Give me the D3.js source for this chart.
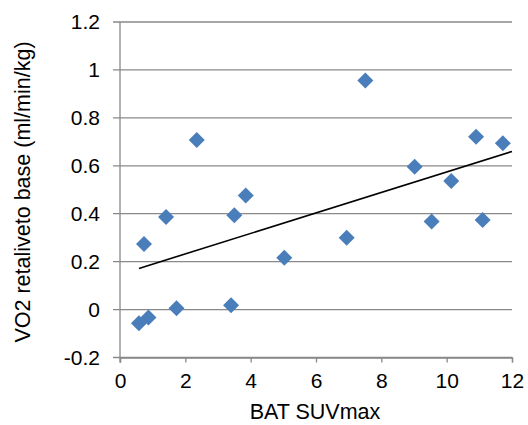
<!DOCTYPE html>
<html>
<head>
<meta charset="utf-8">
<script src="https://cdn.jsdelivr.net/npm/d3@7"></script>
<style>
  body { margin: 0; background: #fff; }
  text { font-family: "Liberation Sans", Arial, sans-serif; fill: #000; }
</style>
</head>
<body>
<svg id="chart" width="528" height="425"></svg>
<script>
// BAT SUVmax vs VO2
const suvMax = [0.58, 0.87, 0.735, 1.41, 1.73, 2.35, 3.40, 3.50, 3.85, 5.03,
  6.94, 7.51, 9.02, 9.54, 10.14, 10.90, 11.10, 11.72]
const vo2 = [-0.057, -0.033, 0.274, 0.386, 0.006, 0.708, 0.018, 0.394, 0.476, 0.216,
  0.300, 0.956, 0.596, 0.367, 0.537, 0.721, 0.374, 0.694]
const xTicks = [0, 2, 4, 6, 8, 10, 12]
const yTicks = [-0.2, 0, 0.2, 0.4, 0.6, 0.8, 1, 1.2]

window.addEventListener('load', () => {
  const svg = d3.select('#chart'),
    left = 120, right = 512, top = 22, bottom = 357.5,
    x = d3.scaleLinear().domain([0, 12]).range([left, right]),
    y = d3.scaleLinear().domain([-0.2, 1.2]).range([bottom, top]),
    grey = '#898989'

  const points = suvMax.map((d, i) => ({ x: d, y: vo2[i] }))

  // gridlines + y ticks
  svg.append('g')
    .selectAll('line')
    .data(yTicks)
    .enter()
    .append('line')
    .attr('x1', left - 7)
    .attr('x2', right)
    .attr('y1', (d) => y(d))
    .attr('y2', (d) => y(d))
    .attr('stroke', grey)
    .attr('stroke-width', 1.3)

  svg.append('g')
    .selectAll('text')
    .data(yTicks)
    .enter()
    .append('text')
    .attr('x', 100)
    .attr('y', (d) => y(d))
    .attr('dy', '0.35em')
    .attr('text-anchor', 'end')
    .style('font-size', '21px')
    .text((d) => String(d))

  // x axis
  const xAxis = d3.axisBottom(x).tickValues(xTicks).tickSize(5).tickPadding(11)
    .tickFormat((d) => String(d))
  const gx = svg.append('g')
    .attr('transform', `translate(0,${bottom})`)
    .call(xAxis)
  gx.select('.domain').attr('stroke', grey).attr('stroke-width', 1.3)
  gx.selectAll('.tick line').attr('stroke', grey).attr('stroke-width', 1.3)
  gx.selectAll('.tick text').style('font-size', '21px').attr('fill', '#000')
    .style('font-family', '"Liberation Sans", Arial, sans-serif')

  // y axis line
  svg.append('line')
    .attr('x1', left).attr('x2', left)
    .attr('y1', top).attr('y2', bottom + 5)
    .attr('stroke', grey)
    .attr('stroke-width', 1.3)

  // linear trendline (least squares)
  const mx = d3.mean(suvMax), my = d3.mean(vo2)
  const slope = d3.sum(points, (p) => (p.x - mx) * (p.y - my)) /
    d3.sum(points, (p) => (p.x - mx) ** 2)
  const icpt = my - slope * mx
  const trendX = [d3.min(suvMax), 12]
  svg.append('path')
    .attr('d', d3.line().x((d) => x(d)).y((d) => y(icpt + slope * d))(trendX))
    .attr('stroke', '#000')
    .attr('stroke-width', 1.6)
    .attr('fill', 'none')

  // diamond markers
  svg.append('g')
    .selectAll('path')
    .data(points)
    .enter()
    .append('path')
    .attr('d', d3.symbol().type(d3.symbolSquare).size(128))
    .attr('transform', (d) => `translate(${x(d.x)},${y(d.y)}) rotate(45)`)
    .attr('fill', '#4A7EBB')

  // titles
  svg.append('text')
    .attr('x', 315)
    .attr('y', 419)
    .attr('text-anchor', 'middle')
    .style('font-size', '21.5px')
    .text('BAT SUVmax')

  svg.append('text')
    .attr('transform', 'translate(30,192) rotate(-90)')
    .attr('text-anchor', 'middle')
    .style('font-size', '21.5px')
    .text('VO2 retaliveto base (ml/min/kg)')
})
</script>
</body>
</html>
